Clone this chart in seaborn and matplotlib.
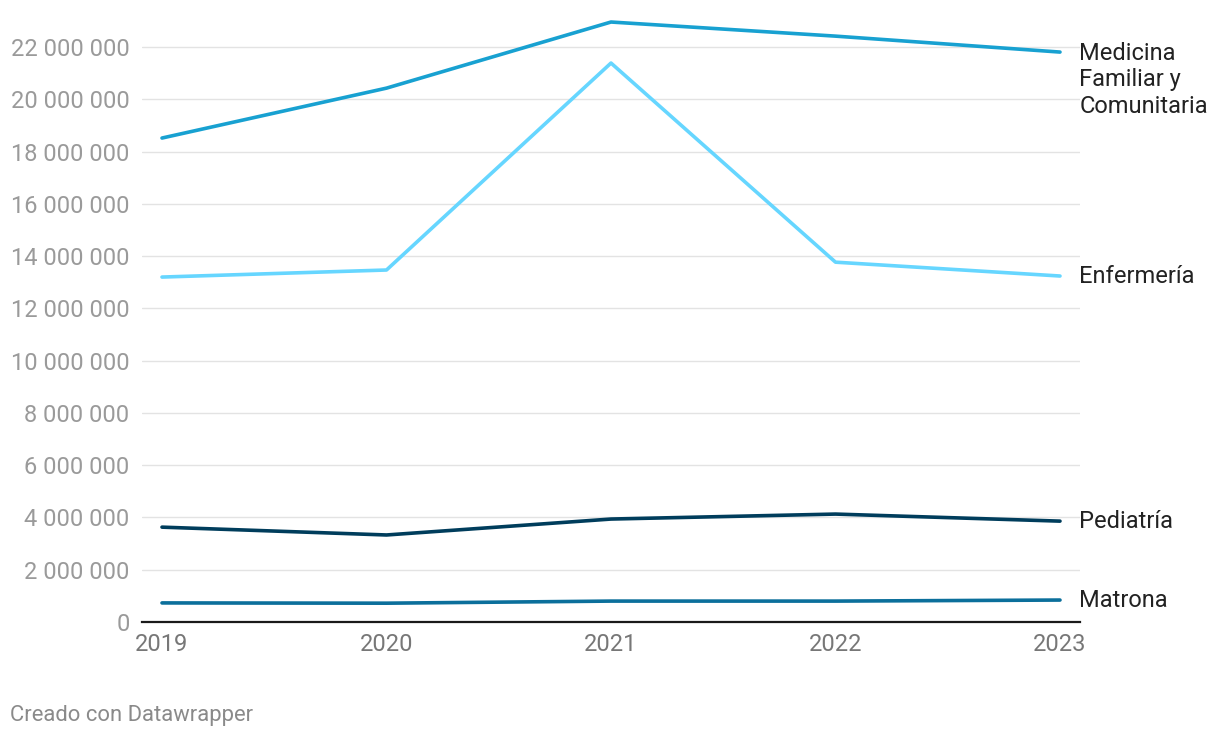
import matplotlib.pyplot as plt
import matplotlib.ticker as mticker
import seaborn as sns
import pandas as pd

years = [2019, 2020, 2021, 2022, 2023]
medicina = [18.52e6, 20.43e6, 22.96e6, 22.42e6, 21.81e6]
enfermeria = [13.20e6, 13.47e6, 21.39e6, 13.77e6, 13.24e6]
pediatria = [3.63e6, 3.33e6, 3.94e6, 4.13e6, 3.86e6]
matrona = [0.73e6, 0.72e6, 0.80e6, 0.80e6, 0.84e6]

series_names = ['Medicina\nFamiliar y\nComunitaria', 'Enfermería', 'Pediatría', 'Matrona']
series_vals = [medicina, enfermeria, pediatria, matrona]
colors = ['#18a1d1', '#66d6ff', '#003d5c', '#0b6f9b']

rows = []
for name, vals in zip(series_names, series_vals):
    for yr, v in zip(years, vals):
        rows.append({'year': yr, 'value': v, 'serie': name})
df = pd.DataFrame(rows)

sns.set_style('white')
plt.rcParams['font.family'] = ['Roboto', 'DejaVu Sans']

fig = plt.figure(figsize=(12.2, 7.38), dpi=100)
ax = fig.add_axes([142 / 1220, 1 - 622 / 738, (1080 - 142) / 1220, (622 - 10) / 738])

sns.lineplot(data=df, x='year', y='value', hue='serie', palette=colors,
             linewidth=2.6, legend=False, ax=ax)
for line in ax.lines:
    line.set_solid_capstyle('round')
    line.set_solid_joinstyle('round')

ax.set_xlim(2019 - 20 / 224.5, 2023 + 20 / 224.5)
ax.set_ylim(0, 23.42e6)
ax.set_yticks(range(0, 22000001, 2000000))
ax.yaxis.set_major_formatter(mticker.FuncFormatter(lambda v, p: f'{int(v):,}'.replace(',', ' ')))
ax.set_xticks(years)
ax.grid(axis='y', color='#e3e3e3', linewidth=1)
ax.set_axisbelow(True)
for s in ['top', 'right', 'left']:
    ax.spines[s].set_visible(False)
ax.spines['bottom'].set_color('#1a1a1a')
ax.spines['bottom'].set_linewidth(1.6)
ax.spines['bottom'].set_zorder(3)
ax.tick_params(axis='y', length=0, pad=9, labelsize=17, labelcolor='#9a9a9a')
ax.tick_params(axis='x', length=0, pad=8, labelsize=17, labelcolor='#777777')
ax.set_xlabel('')
ax.set_ylabel('')

for name, vals in zip(series_names, series_vals):
    nlines = name.count('\n')
    ax.annotate(name, xy=(years[-1], vals[-1]), xytext=(14, -nlines * 10.0),
                textcoords='offset points', va='center', ha='left',
                fontsize=17, color='#222222', linespacing=1.21, annotation_clip=False)

fig.text(10 / 1220, 1 - 715 / 738, 'Creado con Datawrapper', fontsize=15.8,
         color='#8a8a8a', va='center', ha='left')

fig.savefig('out.png', dpi=100)
